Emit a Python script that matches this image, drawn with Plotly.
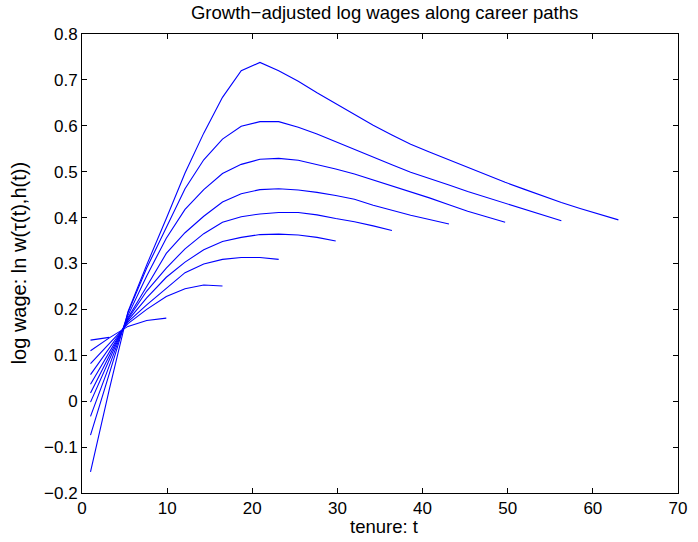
import plotly.graph_objects as go

# tenure grid (shared by all career paths)
tenure = [1.0, 3.2, 5.4, 7.6, 9.9, 12.1, 14.3, 16.5, 18.7, 20.9, 23.1, 25.4, 27.6, 29.8,
          32.0, 34.2, 36.4, 38.6, 40.8, 43.1, 45.3, 47.5, 49.7, 51.9, 54.1, 56.3, 58.5,
          60.8, 63.0]

path_02 = [0.133, 0.139]
path_05 = [0.110, 0.138, 0.163, 0.176, 0.181]
path_08 = [0.082, 0.125, 0.169, 0.200, 0.228, 0.245, 0.253, 0.251]
path_11 = [0.058, 0.115, 0.173, 0.210, 0.245, 0.280, 0.299, 0.309, 0.313, 0.313, 0.309]
path_14 = [0.037, 0.107, 0.176, 0.225, 0.270, 0.303, 0.330, 0.348, 0.357, 0.363, 0.364,
           0.362, 0.357, 0.349]
path_17 = [0.018, 0.098, 0.179, 0.240, 0.290, 0.332, 0.365, 0.390, 0.402, 0.408, 0.411,
           0.411, 0.406, 0.398, 0.391, 0.382, 0.372]
path_20 = [-0.002, 0.090, 0.182, 0.250, 0.322, 0.367, 0.403, 0.434, 0.452, 0.461, 0.463,
           0.460, 0.455, 0.448, 0.440, 0.427, 0.416, 0.405, 0.396, 0.386]
path_23 = [-0.033, 0.077, 0.187, 0.273, 0.355, 0.418, 0.461, 0.496, 0.516, 0.527, 0.529,
           0.525, 0.516, 0.506, 0.495, 0.482, 0.470, 0.457, 0.443, 0.428, 0.414, 0.402,
           0.390]
path_26 = [-0.074, 0.060, 0.193, 0.290, 0.378, 0.463, 0.526, 0.571, 0.599, 0.609, 0.609,
           0.597, 0.582, 0.565, 0.548, 0.531, 0.515, 0.499, 0.486, 0.471, 0.457, 0.444,
           0.431, 0.418, 0.405, 0.393]
path_29 = [-0.154, 0.025, 0.195, 0.297, 0.398, 0.497, 0.584, 0.662, 0.720, 0.738, 0.720,
           0.697, 0.672, 0.648, 0.624, 0.601, 0.580, 0.560, 0.543, 0.526, 0.509, 0.492,
           0.477, 0.462, 0.447, 0.433, 0.420, 0.407, 0.395]

paths = [path_02, path_05, path_08, path_11, path_14, path_17, path_20, path_23, path_26, path_29]

x_ticks = [0, 10, 20, 30, 40, 50, 60, 70]
y_ticks = [-0.2, -0.1, 0, 0.1, 0.2, 0.3, 0.4, 0.5, 0.6, 0.7, 0.8]

FONT = "Liberation Sans, Arial, Helvetica, sans-serif"

fig = go.Figure()
for p in paths:
    fig.add_trace(go.Scatter(x=tenure[:len(p)], y=p, mode="lines",
                             line=dict(color="#0000ff", width=1.1),
                             showlegend=False, hoverinfo="skip"))

axis_common = dict(showline=True, linecolor="black", linewidth=1, mirror="ticks",
                   ticks="inside", ticklen=5, tickcolor="black", tickwidth=1,
                   showgrid=False, zeroline=False,
                   tickfont=dict(family=FONT, size=17, color="black"))

fig.update_xaxes(range=[0, 70], tickvals=x_ticks, ticktext=[str(v) for v in x_ticks],
                 **axis_common)
fig.update_yaxes(range=[-0.2, 0.8], tickvals=y_ticks,
                 ticktext=[("\u2212" + f"{abs(v):g}") if v < 0 else f"{v:g}" for v in y_ticks],
                 **axis_common)

fig.update_layout(
    width=698, height=542,
    margin=dict(l=82, r=11, t=34, b=49),
    plot_bgcolor="white", paper_bgcolor="white",
    font=dict(family=FONT, color="black"),
    title=dict(text="Growth\u2212adjusted log wages along career paths",
               x=0.551, xanchor="center", y=1 - 13 / 542, yanchor="middle",
               font=dict(family=FONT, size=18.5, color="black")),
    annotations=[
        dict(text="tenure: t", xref="paper", yref="paper", x=0.506, y=-0.073,
             xanchor="center", yanchor="middle", showarrow=False,
             font=dict(family=FONT, size=18.5, color="black")),
        dict(text="log wage: ln w(\u03c4(t),h(t))", xref="paper", yref="paper",
             x=-0.106, y=0.5, textangle=-90, xanchor="center", yanchor="middle",
             showarrow=False, font=dict(family=FONT, size=20, color="black")),
    ],
)

fig.write_html("out.html", post_script="document.body.style.margin='0';",
               config={"displayModeBar": False})
